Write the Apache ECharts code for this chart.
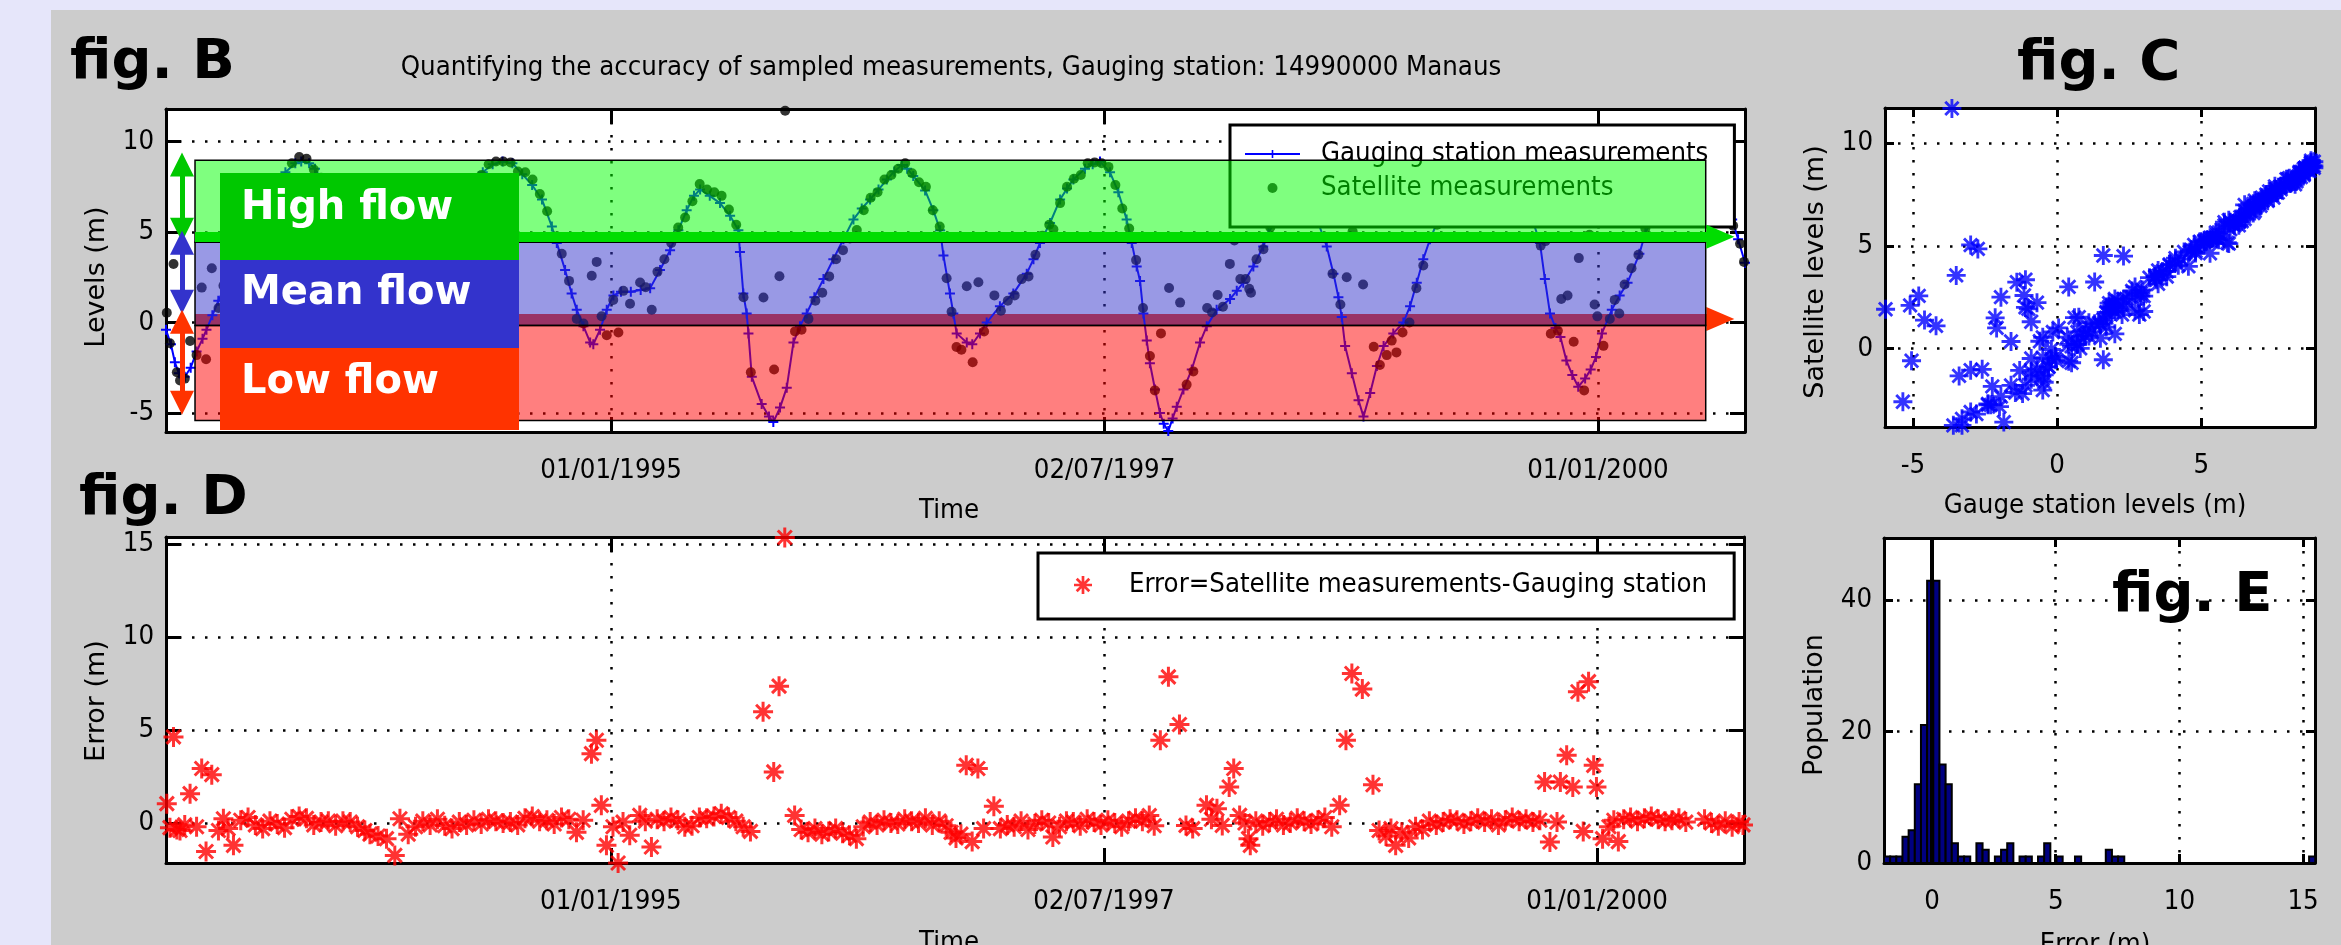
<!DOCTYPE html>
<html><head><meta charset="utf-8">
<script src="https://cdn.jsdelivr.net/npm/echarts@6/dist/echarts.min.js"></script>
<style>html,body{margin:0;padding:0;background:#E6E6FA;}#c{width:2341px;height:945px;}</style>
</head><body><div id="c"></div>
<script>
// ---------------- data ----------------
const tickYears = [1995, 1997.5, 2000];
const tickLabels = ['01/01/1995', '02/07/1997', '01/01/2000'];

// Gauging station (Manaus) levels, decimal year / metres
const gaugeYear = [
 1992.745,1992.77,1992.79,1992.81,1992.84,1992.87,1992.90,1992.93,1992.95,1992.98,
 1993.01,1993.05,1993.10,1993.15,1993.20,1993.25,1993.30,1993.35,1993.40,1993.43,1993.47,1993.50,1993.55,1993.60,1993.65,1993.70,1993.75,1993.80,1993.85,1993.90,1993.95,
 1994.00,1994.05,1994.10,1994.15,1994.20,1994.25,1994.30,1994.35,1994.40,1994.45,1994.50,1994.55,1994.60,1994.65,1994.70,1994.725,1994.767,1994.80,1994.826,1994.86,1994.894,1994.91,1994.944,1994.978,
 1995.012,1995.05,1995.10,1995.15,1995.198,1995.248,1995.299,1995.341,1995.383,1995.42,1995.451,1995.50,1995.552,1995.603,1995.645,1995.653,1995.67,1995.687,1995.696,1995.713,1995.763,1995.80,1995.822,1995.856,1995.89,1995.924,1995.957,1995.991,
 1996.03,1996.076,1996.126,1996.177,1996.228,1996.27,1996.312,1996.355,1996.397,1996.435,1996.473,1996.50,1996.531,1996.591,1996.633,1996.667,1996.684,1996.717,1996.734,1996.751,1996.802,1996.83,1996.869,1996.903,1996.97,
 1997.038,1997.106,1997.14,1997.173,1997.224,1997.275,1997.31,1997.342,1997.401,1997.44,1997.477,1997.528,1997.57,1997.612,1997.638,1997.663,1997.68,1997.697,1997.714,1997.73,1997.756,1997.781,1997.80,1997.823,1997.845,1997.866,1997.90,1997.942,1997.984,
 1998.018,1998.068,1998.136,1998.17,1998.203,1998.254,1998.304,1998.33,1998.38,1998.43,1998.48,1998.53,1998.58,1998.626,1998.66,1998.685,1998.702,1998.719,1998.753,1998.787,1998.812,1998.846,1998.88,1998.914,1998.963,
 1999.014,1999.048,1999.082,1999.115,1999.149,1999.20,1999.25,1999.30,1999.35,1999.40,1999.45,1999.50,1999.55,1999.60,1999.65,1999.706,1999.731,1999.757,1999.785,1999.81,1999.84,1999.87,1999.90,1999.935,1999.963,1999.99,
 2000.02,2000.07,2000.11,2000.15,2000.21,2000.24,2000.30,2000.35,2000.40,2000.45,2000.50,2000.55,2000.60,2000.66,2000.68,2000.71,2000.745
];
const gaugeLevel = [
 -0.4,-1.2,-2.2,-2.8,-3.0,-2.5,-1.6,-0.9,-0.4,0.4,
 1.2,2.1,3.3,4.5,5.6,6.6,7.5,8.3,8.8,8.9,8.8,8.5,7.6,6.3,4.7,2.7,0.6,-1.0,-2.0,-1.9,-0.9,
 0.5,2.0,3.4,4.6,5.7,6.7,7.6,8.3,8.75,8.9,8.8,8.2,7.6,6.8,5.3,4.4,2.9,1.6,0.7,-0.2,-1.1,-1.2,-0.4,0.7,
 1.5,1.7,1.7,1.8,1.9,2.9,4.0,5.1,6.2,7.0,7.35,7.0,6.6,5.9,5.1,3.9,1.6,0.5,-0.6,-3.0,-4.5,-5.2,-5.5,-4.7,-3.6,-1.1,-0.2,0.5,
 1.4,2.4,3.5,4.6,5.7,6.3,6.8,7.35,7.9,8.35,8.7,8.5,8.1,7.3,6.2,5.1,3.7,1.6,0.5,-0.6,-1.1,-1.2,-0.6,0.0,0.9,
 1.6,2.7,3.5,4.4,5.5,6.8,7.4,7.9,8.5,8.75,8.9,8.3,7.2,5.7,4.4,3.1,2.3,0.5,-1.0,-2.25,-3.7,-5.0,-5.6,-6.0,-5.3,-4.65,-3.7,-2.6,-1.1,
 -0.2,0.7,1.3,1.75,2.2,3.1,4.2,4.95,5.9,6.6,6.8,6.45,5.6,4.2,2.7,1.4,0.3,-1.3,-2.8,-4.3,-5.2,-3.9,-2.4,-1.3,-0.6,
 0.0,0.9,2.2,3.5,4.6,5.9,6.8,7.7,8.4,8.8,8.9,8.75,8.2,7.5,6.3,4.4,2.4,0.5,-0.3,-0.8,-2.1,-2.9,-3.55,-3.1,-2.6,-1.9,
 -0.6,0.7,1.5,2.2,3.8,4.95,6.3,7.2,7.8,8.4,8.6,8.4,7.8,6.6,5.7,4.6,3.3
];

// Satellite passes: time, gauge level at the pass, error (satellite - gauge)
const obsYear = [
 1992.749,1992.765,1992.783,1992.800,1992.816,1992.840,1992.867,1992.900,1992.926,1992.948,1992.977,1993.011,1993.036,1993.060,1993.087,
 1993.124,1993.161,1993.198,1993.235,1993.272,1993.309,1993.346,1993.383,1993.420,1993.457,1993.494,1993.531,1993.568,1993.605,1993.642,1993.679,1993.716,1993.753,
 1993.779,1993.820,1993.863,1993.905,1993.931,1993.973,
 1994.010,1994.047,1994.084,1994.121,1994.158,1994.195,1994.232,1994.269,1994.306,1994.343,1994.380,1994.417,1994.454,1994.491,1994.528,1994.565,1994.602,1994.639,1994.676,1994.713,1994.750,1994.787,
 1994.826,1994.860,1994.902,1994.927,1994.952,1994.978,1995.011,1995.037,1995.062,1995.096,1995.147,1995.175,1995.206,1995.235,1995.270,1995.305,1995.340,
 1995.375,1995.412,1995.449,1995.486,1995.523,1995.560,1995.597,1995.634,1995.671,1995.708,
 1995.772,1995.826,1995.853,1995.882,1995.932,
 1995.965,1996.000,1996.035,1996.070,1996.105,1996.140,1996.175,1996.210,1996.245,1996.280,1996.315,1996.350,1996.385,1996.420,1996.455,1996.490,1996.525,1996.560,1996.595,1996.630,1996.665,1996.700,
 1996.725,1996.750,1996.775,1996.802,1996.832,1996.861,1996.890,1996.942,
 1996.975,1997.010,1997.045,1997.080,1997.115,1997.150,1997.185,1997.220,1997.241,1997.275,1997.310,1997.345,1997.380,1997.415,1997.450,1997.485,1997.520,1997.555,1997.590,1997.625,1997.660,1997.695,1997.730,1997.755,
 1997.786,1997.827,1997.883,1997.916,1997.950,1998.020,1998.045,1998.073,1998.100,1998.135,1998.158,1998.188,1998.215,1998.233,1998.242,
 1998.270,1998.305,1998.340,1998.375,1998.410,1998.445,1998.480,1998.515,1998.550,1998.585,1998.620,1998.655,
 1998.695,1998.727,1998.757,1998.810,1998.864,
 1998.895,1998.930,1998.955,1998.979,1999.010,1999.045,1999.080,1999.115,1999.150,1999.185,1999.220,1999.255,1999.290,1999.325,1999.360,1999.395,1999.430,1999.465,1999.500,1999.535,1999.570,1999.605,1999.640,1999.675,1999.710,
 1999.734,1999.761,1999.797,1999.814,1999.846,1999.877,1999.903,1999.930,1999.957,1999.983,1999.997,2000.028,2000.060,
 2000.085,2000.108,2000.135,2000.170,2000.205,2000.240,2000.275,2000.310,2000.345,2000.380,2000.415,2000.450,
 2000.545,2000.580,2000.615,2000.650,2000.685,2000.720,2000.740
];
const obsGauge = [
 -0.5,-0.9,-1.4,-2.4,-2.8,-3.0,-2.6,-1.6,-1.0,-0.5,0.4,1.2,1.8,2.3,3.0,
 3.9,4.75,5.55,6.3,7.0,7.65,8.25,8.6,8.8,8.8,8.55,7.95,7.2,6.15,4.95,3.55,2.0,0.5,
 -0.3,-1.45,-2.0,-1.85,-1.3,-0.3,
 0.8,1.9,2.95,3.9,4.8,5.6,6.35,7.05,7.7,8.2,8.55,8.8,8.9,8.8,8.45,8.05,7.55,7.0,6.0,4.8,3.5,2.1,
 0.7,-0.2,-1.15,-1.1,-0.6,0.5,1.45,1.6,1.7,1.7,1.8,1.85,2.0,2.6,3.4,4.1,5.1,
 6.0,6.85,7.35,7.1,6.85,6.5,5.95,5.3,1.6,-2.3,
 -4.6,-5.35,-4.8,-3.65,-0.9,
 -0.05,0.7,1.5,2.25,3.0,3.8,4.55,5.3,5.95,6.4,6.85,7.3,7.75,8.15,8.55,8.6,8.15,7.75,7.25,6.3,5.2,2.6,
 1.1,-0.55,-0.9,-1.1,-1.2,-0.7,-0.2,0.6,
 0.95,1.3,1.7,2.3,2.9,3.8,4.65,5.4,5.9,6.8,7.4,7.9,8.3,8.6,8.8,8.9,8.45,7.6,6.5,5.1,3.2,0.7,-2.25,-3.6,
 -5.05,-5.95,-4.2,-3.3,-2.4,-0.15,0.35,0.75,1.0,1.3,1.6,2.0,2.4,2.7,2.85,
 3.4,4.2,5.2,5.8,6.3,6.7,6.8,6.55,6.1,5.5,4.4,2.9,
 0.05,-1.95,-3.0,-5.1,-3.4,
 -1.95,-1.1,-0.7,-0.45,-0.05,0.8,2.1,3.5,4.6,5.5,6.2,6.9,7.6,8.1,8.5,8.8,8.85,8.9,8.75,8.4,7.95,7.45,6.6,5.6,4.1,
 2.3,0.4,-0.5,-0.9,-2.15,-3.0,-3.5,-3.3,-2.75,-2.1,-1.6,-0.45,0.4,
 1.1,1.5,1.9,2.7,3.65,4.95,5.8,6.5,7.1,7.6,8.0,8.4,
 8.4,8.05,7.5,6.85,5.55,4.3,3.45
];
const obsError = [
 1.04,-0.25,4.63,-0.35,-0.4,-0.1,1.58,-0.2,2.93,-1.53,2.6,-0.4,0.23,-0.3,-1.2,
 0.15,0.3,-0.1,-0.3,0.1,-0.05,-0.25,0.2,0.35,0.25,-0.1,0.05,0.1,-0.15,0.1,0.05,-0.2,-0.4,
 -0.6,-0.7,-0.84,-1.74,0.23,-0.6,
 -0.2,0.1,-0.1,0.2,-0.15,-0.3,0.05,-0.1,0.15,-0.05,0.2,0.1,0.0,0.05,-0.1,0.25,0.35,0.1,0.15,-0.05,0.3,0.2,
 -0.5,0.15,3.73,4.45,0.95,-1.2,-0.2,-2.15,0.05,-0.66,0.41,0.1,-1.29,0.2,0.1,0.3,0.15,
 -0.2,-0.15,0.3,0.25,0.35,0.5,0.3,0.1,-0.2,-0.45,
 5.98,2.75,7.36,15.35,0.41,
 -0.35,-0.5,-0.3,-0.6,-0.45,-0.3,-0.55,-0.66,-0.84,-0.2,0.05,-0.1,0.15,0.0,-0.05,0.2,0.1,0.0,0.25,-0.1,0.1,-0.15,
 -0.5,-0.8,-0.6,3.1,-1.0,2.93,-0.3,0.9,
 -0.3,-0.1,-0.2,0.1,-0.35,-0.05,0.15,0.0,-0.75,-0.2,0.1,0.05,-0.15,0.2,0.05,-0.1,0.15,0.0,-0.2,0.1,0.25,0.1,0.4,-0.15,
 4.45,7.86,5.3,-0.13,-0.3,0.95,0.2,0.77,-0.13,1.94,2.93,0.41,0.0,-0.84,-1.2,
 0.1,-0.15,0.05,0.2,-0.1,0.0,0.25,0.1,-0.05,0.15,0.3,-0.2,
 0.95,4.45,8.04,7.2,2.06,
 -0.4,-0.7,-0.3,-1.2,-0.5,-0.8,-0.2,-0.35,0.1,-0.1,0.05,0.2,0.15,-0.05,0.1,0.25,0.05,0.2,-0.1,0.15,0.3,0.1,0.2,0.05,0.15,
 2.2,-1.02,0.05,2.2,3.64,1.94,7.06,-0.45,7.6,3.1,1.94,-0.84,-0.2,
 0.15,-1.0,0.2,0.3,0.1,0.25,0.35,0.2,0.1,0.15,0.25,0.05,
 0.2,0.0,-0.15,0.1,-0.2,0.05,-0.1
];

// Histogram of the error (fig. E): left edge of each non-empty bin (m) and population
const histBinWidth = 0.249;
const histBinLeft = [-1.940,-1.691,-1.442,-1.193,-0.944,-0.695,-0.446,-0.197,0.052,0.301,0.550,0.799,1.048,1.297,1.795,2.044,2.542,2.791,3.040,3.538,3.787,4.285,4.534,5.032,5.779,7.024,7.273,7.522,15.241];
const histCount   = [1,1,1,4,5,12,21,43,43,15,12,3,1,1,3,2,1,2,3,1,1,1,3,1,1,2,1,1,1];

// Flow classes (fig. B), levels in m
const flowBandYears = [1992.892, 2000.546];
const highFlow = [4.43, 8.97];
const meanFlow = [-0.17, 4.43];
const lowFlow = [-5.42, -0.17];
const thresholdLevels = [4.74, 0.2];
const arrowYear = 1992.826;
const arrowEndYear = 2000.62;
const flowArrowRanges = [[8.73, 5.13], [4.41, 1.15], [0.04, -4.44]];

// ---------------- chart ----------------
const NARROW = "'Liberation Sans Narrow','Arial Narrow','DejaVu Sans Condensed',sans-serif";
const SANS = "'DejaVu Sans',sans-serif";
const TITLE = 'Quantifying the accuracy of sampled measurements, Gauging station: 14990000 Manaus';
// size the condensed font so that the title keeps its width
const NS = (function () {
  const ctx = document.createElement('canvas').getContext('2d');
  ctx.font = '33px ' + NARROW;
  const w = ctx.measureText(TITLE).width;
  return Math.max(22, Math.min(34, Math.round(33 * 1102 / w * 10) / 10));
})();
const PLUS = 'path://M8 0h4v20h-4z M0 8h20v4h-20z';
const STAR = 'path://M8.5 0h3v20h-3z M0 8.5h20v3h-20z M1.94 4.06L4.06 1.94L18.06 15.94L15.94 18.06z M15.94 1.94L18.06 4.06L4.06 18.06L1.94 15.94z';

const chart = echarts.init(document.getElementById('c'), null, {renderer: 'canvas'});

function dateFmt(v) {
  let best = 0;
  for (let i = 1; i < tickYears.length; i++) if (Math.abs(tickYears[i] - v) < Math.abs(tickYears[best] - v)) best = i;
  return tickLabels[best];
}
function axis(kind, grid, pos, min, max, ticks, main, tickLen) {
  return {
    type: 'value', gridIndex: grid, position: pos, min: min, max: max,
    axisLine: {show: true, onZero: false, lineStyle: {color: '#000', width: 3}},
    axisTick: {show: true, inside: true, length: tickLen, customValues: ticks, lineStyle: {color: '#000', width: 3}},
    axisLabel: main ? {show: true, customValues: ticks, fontFamily: NARROW, fontSize: NS, color: '#000', margin: kind === 'x' ? 25 : 12} : {show: false},
    splitLine: main ? {show: true, lineStyle: {color: '#000', width: 2.5, type: [2.5, 10.5]}} : {show: false}
  };
}

const xB = [1992.745, 2000.745], yB = [-6.05, 11.8];
const yD = [-2.15, 15.38];
const xC = [-5.97, 8.94], yC = [-3.83, 11.72];
const xE = [-1.94, 15.48], yE = [0, 49.5];

const dateAxisB = axis('x', 0, 'bottom', xB[0], xB[1], tickYears, true, 15);
dateAxisB.axisLabel.formatter = dateFmt;
const dateAxisD = axis('x', 1, 'bottom', xB[0], xB[1], tickYears, true, 15);
dateAxisD.axisLabel.formatter = dateFmt;

const satLevel = obsGauge.map((g, i) => +(g + obsError[i]).toFixed(2));

const bandArea = (range, color) => [
  {xAxis: flowBandYears[0], yAxis: range[1], itemStyle: {color: color, borderColor: '#000', borderWidth: 1.5}},
  {xAxis: flowBandYears[1], yAxis: range[0]}
];
const hLine = (lvl, color, w) => [
  {coord: [flowBandYears[0], lvl], symbol: 'none', lineStyle: {color: color, width: w, type: 'solid'}},
  {coord: [arrowEndYear, lvl], symbol: 'triangle', symbolSize: [24, 28]}
];
const arrowColors = ['#00C800', '#3333CC', '#FF3300'];
const vArrows = flowArrowRanges.map((r, i) => [
  {coord: [arrowYear, r[0]], symbol: 'triangle', symbolSize: [24, 24], lineStyle: {color: arrowColors[i], width: 5, type: 'solid'}, itemStyle: {color: arrowColors[i]}},
  {coord: [arrowYear, r[1]], symbol: 'triangle', symbolSize: [24, 24], itemStyle: {color: arrowColors[i]}}
]);

const txt = (text, x, y, font, extra) => ({type: 'text', x: x, y: y, z: 50, silent: true,
  style: Object.assign({text: text, font: font, fill: '#000', align: 'left', verticalAlign: 'middle'}, extra || {})});
const ctxt = (text, x, y, font) => txt(text, x, y, font, {align: 'center'});
const vtxt = (text, x, y) => Object.assign(ctxt(text, x, y, '27px ' + SANS), {rotation: Math.PI / 2});

const option = {
  animation: false,
  backgroundColor: '#E6E6FA',
  grid: [
    {left: 166, top: 109, width: 1579, height: 323, show: true, backgroundColor: '#fff', borderWidth: 0},
    {left: 166, top: 537, width: 1578, height: 326, show: true, backgroundColor: '#fff', borderWidth: 0},
    {left: 1885, top: 108, width: 430, height: 319, show: true, backgroundColor: '#fff', borderWidth: 0},
    {left: 1884, top: 538, width: 431, height: 325, show: true, backgroundColor: '#fff', borderWidth: 0}
  ],
  xAxis: [
    dateAxisB,
    axis('x', 0, 'top', xB[0], xB[1], tickYears, false, 15),
    dateAxisD,
    axis('x', 1, 'top', xB[0], xB[1], tickYears, false, 15),
    axis('x', 2, 'bottom', xC[0], xC[1], [-5, 0, 5], true, 9),
    axis('x', 2, 'top', xC[0], xC[1], [-5, 0, 5], false, 9),
    axis('x', 3, 'bottom', xE[0], xE[1], [0, 5, 10, 15], true, 9),
    axis('x', 3, 'top', xE[0], xE[1], [0, 5, 10, 15], false, 9)
  ],
  yAxis: [
    axis('y', 0, 'left', yB[0], yB[1], [-5, 0, 5, 10], true, 15),
    axis('y', 0, 'right', yB[0], yB[1], [-5, 0, 5, 10], false, 15),
    axis('y', 1, 'left', yD[0], yD[1], [0, 5, 10, 15], true, 15),
    axis('y', 1, 'right', yD[0], yD[1], [0, 5, 10, 15], false, 15),
    axis('y', 2, 'left', yC[0], yC[1], [0, 5, 10], true, 9),
    axis('y', 2, 'right', yC[0], yC[1], [0, 5, 10], false, 9),
    axis('y', 3, 'left', yE[0], yE[1], [0, 20, 40], true, 9),
    axis('y', 3, 'right', yE[0], yE[1], [0, 20, 40], false, 9)
  ],
  legend: [
    {data: ['Gauging station measurements', 'Satellite measurements'], left: 1230, top: 125, orient: 'vertical', z: 3,
     backgroundColor: '#fff', borderColor: '#000', borderWidth: 3, padding: [12, 26, 22, 14], itemGap: 0,
     itemWidth: 55, itemHeight: 10, selectedMode: false,
     textStyle: {fontFamily: NARROW, fontSize: NS, color: '#000', lineHeight: 34, padding: [0, 0, 0, 16]}},
    {data: ['Error=Satellite measurements-Gauging station'], left: 1038, top: 553, z: 3,
     backgroundColor: '#fff', borderColor: '#000', borderWidth: 3, padding: [12, 27, 14, 36], itemGap: 0,
     itemWidth: 18, itemHeight: 18, selectedMode: false,
     textStyle: {fontFamily: NARROW, fontSize: NS, color: '#000', lineHeight: 40, padding: [0, 0, 0, 32]}}
  ],
  series: [
    // fig. B
    {type: 'line', xAxisIndex: 0, yAxisIndex: 0, z: 1, silent: true, data: [],
     markLine: {z: 1, silent: true, animation: false, label: {show: false}, data: [hLine(thresholdLevels[1], '#FF3300', 11)]}},
    {name: 'Gauging station measurements', type: 'line', xAxisIndex: 0, yAxisIndex: 0, z: 2, silent: true, clip: false,
     data: gaugeYear.map((y, i) => [y, gaugeLevel[i]]), showSymbol: true, showAllSymbol: true,
     symbol: PLUS, symbolSize: 10, itemStyle: {color: '#0000FF'}, lineStyle: {color: '#0000FF', width: 2}},
    {name: 'Satellite measurements', type: 'scatter', xAxisIndex: 0, yAxisIndex: 0, z: 2, silent: true, clip: false,
     data: obsYear.map((y, i) => [y, satLevel[i]]), symbol: 'circle', symbolSize: 10, itemStyle: {color: '#000'}},
    {type: 'line', xAxisIndex: 0, yAxisIndex: 0, z: 10, silent: true, data: [],
     markArea: {z: 10, silent: true, animation: false, label: {show: false}, data: [
       bandArea(highFlow, 'rgba(0,255,0,0.5)'), bandArea(meanFlow, 'rgba(51,51,204,0.5)'), bandArea(lowFlow, 'rgba(255,0,0,0.5)')]}},
    {type: 'line', xAxisIndex: 0, yAxisIndex: 0, z: 11, silent: true, data: [],
     markLine: {z: 11, silent: true, animation: false, label: {show: false}, data: [hLine(thresholdLevels[0], '#00DD00', 10)].concat(vArrows)}},
    // fig. D
    {name: 'Error=Satellite measurements-Gauging station', type: 'scatter', xAxisIndex: 2, yAxisIndex: 2, silent: true, clip: false,
     data: obsYear.map((y, i) => [y, obsError[i]]), symbol: STAR, symbolSize: 20, itemStyle: {color: '#FF0000'}},
    // fig. C
    {name: 'Satellite vs gauge', type: 'scatter', xAxisIndex: 4, yAxisIndex: 4, silent: true, clip: false,
     data: obsGauge.map((g, i) => [g, satLevel[i]]), symbol: STAR, symbolSize: 19, itemStyle: {color: '#0000FF'}},
    // fig. E
    {name: 'Population', type: 'custom', xAxisIndex: 6, yAxisIndex: 6, silent: true,
     data: histBinLeft.map((x, i) => [x, x + histBinWidth, histCount[i]]),
     encode: {x: [0, 1], y: 2},
     renderItem: function (params, api) {
       const p0 = api.coord([api.value(0), api.value(2)]);
       const p1 = api.coord([api.value(1), 0]);
       return {type: 'rect', shape: {x: p0[0], y: p0[1], width: p1[0] - p0[0], height: p1[1] - p0[1]},
               style: {fill: '#000080', stroke: '#000', lineWidth: 2}};
     }},
    {type: 'line', xAxisIndex: 6, yAxisIndex: 6, z: 4, silent: true, data: [],
     markLine: {silent: true, animation: false, label: {show: false}, symbol: 'none',
       data: [[{coord: [0, yE[0]], lineStyle: {color: '#000', width: 4, type: 'solid'}}, {coord: [0, yE[1]]}]]}}
  ],
  graphic: [
    {type: 'rect', shape: {x: 51, y: 10, width: 2290, height: 935}, style: {fill: '#CCCCCC'}, z: -100, silent: true},
    txt('fig. B', 70, 63, 'bold 56px ' + SANS),
    txt('fig. D', 79, 499, 'bold 56px ' + SANS),
    txt('fig. C', 2017, 64, 'bold 56px ' + SANS),
    txt('fig. E', 2112, 596, 'bold 56px ' + SANS),
    ctxt(TITLE, 951, 68, NS + 'px ' + NARROW),
    ctxt('Time', 949, 511, NS + 'px ' + NARROW),
    ctxt('Time', 949, 943, NS + 'px ' + NARROW),
    ctxt('Gauge station levels (m)', 2095, 506, NS + 'px ' + NARROW),
    ctxt('Error (m)', 2095, 945, NS + 'px ' + NARROW),
    vtxt('Levels (m)', 97, 277),
    vtxt('Error (m)', 97, 701),
    vtxt('Satellite levels (m)', 1816, 272),
    vtxt('Population', 1815, 705),
    {type: 'rect', z: 60, shape: {x: 220, y: 173, width: 299, height: 87}, style: {fill: '#00C800'}, silent: true},
    {type: 'rect', z: 60, shape: {x: 220, y: 260, width: 299, height: 88}, style: {fill: '#3333CC'}, silent: true},
    {type: 'rect', z: 60, shape: {x: 220, y: 348, width: 299, height: 82}, style: {fill: '#FF3300'}, silent: true},
    {type: 'text', z: 61, x: 241, y: 209, silent: true, style: {text: 'High flow', font: 'bold 40px ' + SANS, fill: '#fff', verticalAlign: 'middle'}},
    {type: 'text', z: 61, x: 241, y: 294, silent: true, style: {text: 'Mean flow', font: 'bold 40px ' + SANS, fill: '#fff', verticalAlign: 'middle'}},
    {type: 'text', z: 61, x: 241, y: 383, silent: true, style: {text: 'Low flow', font: 'bold 40px ' + SANS, fill: '#fff', verticalAlign: 'middle'}}
  ]
};
chart.setOption(option);
</script>
</body></html>
